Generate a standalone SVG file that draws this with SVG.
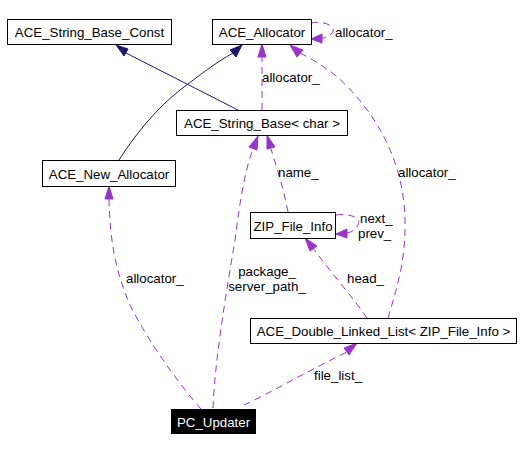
<svg xmlns="http://www.w3.org/2000/svg" width="523" height="451" viewBox="0 0 523 451">
<style>
text{font-family:"Liberation Sans",Arial,sans-serif;font-size:13.3px;fill:#000}
.n rect{fill:#fff;stroke:#000;stroke-width:1}
.n text{text-anchor:middle}
.inh{fill:none;stroke:#191970;stroke-width:1}
.use{fill:none;stroke:#9a32cd;stroke-width:1;stroke-dasharray:7,5}
.ah1{fill:#191970;stroke:#191970}
.ah2{fill:#9a32cd;stroke:#9a32cd}
</style>
<rect width="523" height="451" fill="#fff"/>
<g id="connectors">
<path class="inh" d="M238,110 L126,53"/>
<polygon class="ah1" points="116,45 128,49 124,56"/>
<path class="inh" d="M119,160 C135,135 155,110 180,90 C200,75 215,63 233,53"/>
<polygon class="ah1" points="242,45 236,57 230,50"/>
<path class="use" d="M311,23 C325,20 337,27 332,33 C329,37 326,38 322,38"/>
<polygon class="ah2" points="311,39 322,34 322,43"/>
<path class="use" d="M262,110 L262,57"/>
<polygon class="ah2" points="262,44 266,57 258,57"/>
<path class="use" d="M388,318 C396,290 406,262 405,220 C404,160 375,110 335,75 C322,65 310,58 300,53"/>
<polygon class="ah2" points="290,45 303,50 297,57"/>
<path class="use" d="M288,212 C284,190 276,165 271,149"/>
<polygon class="ah2" points="267,135 275,147 267,149"/>
<path class="use" d="M213,408 C215,360 225,300 235,240 C240,200 245,170 253,149"/>
<polygon class="ah2" points="258,136 257,150 249,147"/>
<path class="use" d="M336,215 C350,213 362,218 358,225 C355,230 352,232 347,233"/>
<polygon class="ah2" points="336,234 347,229 347,238"/>
<path class="use" d="M367,318 C355,300 335,278 313,248"/>
<polygon class="ah2" points="305,238 317,246 310,251"/>
<path class="use" d="M201,409 C180,385 150,345 130,305 C115,270 110,240 109,199"/>
<polygon class="ah2" points="109,186 113,199 105,199"/>
<path class="use" d="M244,405 C270,393 300,375 347,352"/>
<polygon class="ah2" points="357,343 349,355 344,348"/>
<text x="335" y="37">allocator_</text>
<text x="262" y="82">allocator_</text>
<text x="398" y="177">allocator_</text>
<text x="278" y="177">name_</text>
<text x="360" y="223">next_</text>
<text x="358" y="238">prev_</text>
<text x="347" y="283">head_</text>
<text x="267" y="276" text-anchor="middle">package_</text>
<text x="267" y="291" text-anchor="middle">server_path_</text>
<text x="126" y="283">allocator_</text>
<text x="314" y="380">file_list_</text>
</g>
<g id="ACE_String_Base_Const" class="n"><rect x="7.5" y="19.5" width="164" height="25"/><text x="89.5" y="37">ACE_String_Base_Const</text></g>
<g id="ACE_Allocator" class="n"><rect x="212.5" y="19.5" width="99" height="25"/><text x="262" y="37">ACE_Allocator</text></g>
<g id="ACE_String_Base_char" class="n"><rect x="176.5" y="110.5" width="171" height="25"/><text x="262" y="128">ACE_String_Base&lt; char &gt;</text></g>
<g id="ACE_New_Allocator" class="n"><rect x="42.5" y="160.5" width="133" height="26"/><text x="109" y="179">ACE_New_Allocator</text></g>
<g id="ZIP_File_Info" class="n"><rect x="250.5" y="212.5" width="85" height="26"/><text x="293" y="231">ZIP_File_Info</text></g>
<g id="ACE_Double_Linked_List" class="n"><rect x="250.5" y="318.5" width="266" height="25"/><text x="383.5" y="336">ACE_Double_Linked_List&lt; ZIP_File_Info &gt;</text></g>
<g id="PC_Updater"><rect x="171" y="409" width="85" height="25" fill="#000"/><text x="213.5" y="427" text-anchor="middle" fill="#fff" style="fill:#fff">PC_Updater</text></g>
</svg>
